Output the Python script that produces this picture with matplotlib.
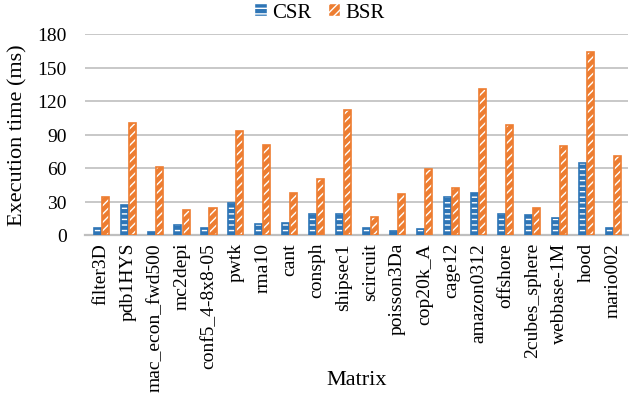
import numpy as np
import matplotlib
matplotlib.use('Agg')
import matplotlib.pyplot as plt
from matplotlib.patches import Patch

plt.rcParams['font.family'] = ['Liberation Serif', 'DejaVu Serif']

# ─── Data ────────────────────────────────────────────────────────────────────
matrices = ['filter3D', 'pdb1HYS', 'mac_econ_fwd500', 'mc2depi', 'conf5_4-8x8-05',
            'pwtk', 'rma10', 'cant', 'consph', 'shipsec1', 'scircuit', 'poisson3Da',
            'cop20k_A', 'cage12', 'amazon0312', 'offshore', '2cubes_sphere',
            'webbase-1M', 'hood', 'mario002']
csr = [6, 27, 3, 9, 6, 28.5, 10, 11, 18.6, 18.6, 6.6, 3.9, 5.7, 34.2, 37.2,
       18.6, 17.7, 15.6, 64.5, 6.6]
bsr = [34, 100, 60.6, 22.5, 24.6, 93, 80.4, 37.5, 50, 111.6, 16.5, 36.3, 59.4,
       41.7, 131, 98.7, 24.6, 79.5, 163.5, 70.5]

BLUE, ORANGE = '#2e75b6', '#ed7d31'

fig = plt.figure(figsize=(6.29, 4.06), dpi=100)
ax = fig.add_axes([85/629, 1-236/406, 543/629, 201/406])

x = np.arange(len(matrices))
w = 0.26
off = 0.15

# fill + white hatch, then coloured outline on top
ax.bar(x - off, csr, w, color=BLUE, edgecolor='white', hatch='---', lw=0, zorder=3)
ax.bar(x - off, csr, w, facecolor='none', edgecolor=BLUE, lw=1.2, zorder=4)
ax.bar(x + off, bsr, w, color=ORANGE, edgecolor='white', hatch='////', lw=0, zorder=3)
ax.bar(x + off, bsr, w, facecolor='none', edgecolor=ORANGE, lw=1.2, zorder=4)

ax.set_xlim(-0.6, len(matrices) - 0.45)
ax.set_ylim(0, 180)
ax.set_yticks(np.arange(0, 181, 30))
ax.yaxis.grid(True, color='#bfbfbf', lw=1.2, zorder=0)
ax.set_axisbelow(True)
for s in ['top', 'right', 'left']:
    ax.spines[s].set_visible(False)
ax.spines['bottom'].set_color('#bfbfbf')
ax.spines['bottom'].set_linewidth(1.6)
ax.tick_params(axis='both', length=0, labelsize=14, colors='#000000')
ax.tick_params(axis='y', pad=13)
ax.tick_params(axis='x', pad=5)
ax.set_xticks(x)
ax.set_xticklabels(matrices, rotation=90)

ax.set_ylabel('Execution time (ms)', fontsize=16, labelpad=7)
# x-axis title sits beside the long rotated labels, not below them
fig.text(357/629, 1-381/406, 'Matrix', fontsize=16, ha='center', va='center')

handles = [Patch(facecolor=BLUE, edgecolor='white', hatch='---'),
           Patch(facecolor=ORANGE, edgecolor='white', hatch='////')]
fig.legend(handles, ['CSR', 'BSR'], loc='center', bbox_to_anchor=(0.508, 0.967),
           ncol=2, frameon=False, fontsize=15, handlelength=0.6, handleheight=0.6,
           handletextpad=0.25, columnspacing=0.8)

fig.savefig('out.png', dpi=100)
